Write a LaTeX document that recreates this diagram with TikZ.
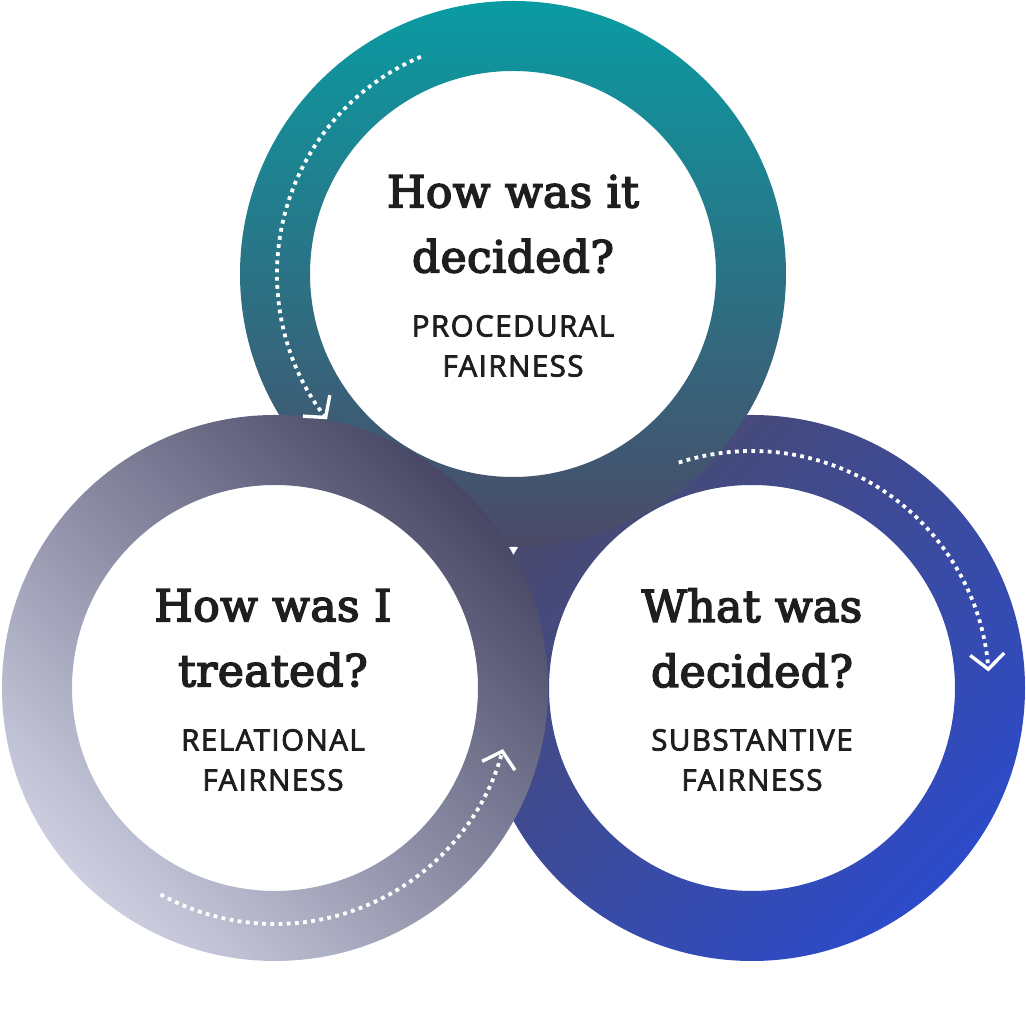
\documentclass[tikz,border=0pt]{standalone}
\usepackage{fontspec}
\newfontfamily\headfont[FakeBold=3.6,LetterSpace=1]{DejaVu Serif}
\newfontfamily\tagfont[FakeBold=2.6,LetterSpace=5]{Open Sans}
\usetikzlibrary{arrows.meta,calc}
\definecolor{ink}{RGB}{30,30,32}
\definecolor{tealhi}{RGB}{10,155,162}
\definecolor{slatelo}{RGB}{75,74,104}
\definecolor{lilaclo}{RGB}{204,206,224}
\definecolor{lilacmid}{RGB}{124,124,152}
\definecolor{lilachi}{RGB}{72,72,102}
\definecolor{bluelo}{RGB}{45,75,202}
\definecolor{bluemid}{RGB}{61,74,150}
\definecolor{bluehi}{RGB}{74,74,110}

\begin{document}
\begin{tikzpicture}[
  x=1pt,y=1pt,
  ring/.style={even odd rule},
  head/.style={align=center,text=ink,font=\headfont\fontsize{44}{65}\selectfont},
  tag/.style={align=center,text=ink,font=\tagfont\fontsize{29.5}{40}\selectfont},
  flow/.style={white,line width=3.8pt,dash pattern=on 3.8pt off 4.4pt,
    -{Straight Barb[length=15pt,width=34pt,line width=3.4pt]}}
]
\useasboundingbox (0,0) rectangle (1026,1014);
\fill[white] (0,0) rectangle (1026,1014);

\coordinate (ctop) at (513,740);
\coordinate (cleft) at (275,326);
\coordinate (cright) at (752,326);

% Rings: right one lies lowest, left one on top.
\shade[ring,top color=bluehi,middle color=bluemid,bottom color=bluelo,shading angle=45]
  (cright) circle[radius=273] (cright) circle[radius=203];
\shade[ring,top color=tealhi,bottom color=slatelo]
  (ctop) circle[radius=273] (ctop) circle[radius=203];
\shade[ring,top color=lilachi,middle color=lilacmid,bottom color=lilaclo,shading angle=-45]
  (cleft) circle[radius=273] (cleft) circle[radius=203];

% Dotted flow arrows along the rings.
\draw[flow] ($(ctop)+(113:236)$) arc[start angle=113,end angle=218,radius=236];
\draw[flow] ($(cright)+(108:237)$) arc[start angle=108,end angle=4,radius=237];
\draw[flow] ($(cleft)+(241:236)$) arc[start angle=241,end angle=345,radius=236];

\fill[white] (509.5,467) -- (516.5,467) -- (513,461) -- cycle;

% Questions and kinds of fairness.
\node[head] (qtop) at (513,790) {How was it\\decided?};
\node[tag] (ftop) at (513,668) {PROCEDURAL\\FAIRNESS};
\node[head] (qleft) at (273,376) {How was I\\treated?};
\node[tag] (fleft) at (273,254) {RELATIONAL\\FAIRNESS};
\node[head] (qright) at (752,376) {What was\\decided?};
\node[tag] (fright) at (752,254) {SUBSTANTIVE\\FAIRNESS};
\end{tikzpicture}
\end{document}
